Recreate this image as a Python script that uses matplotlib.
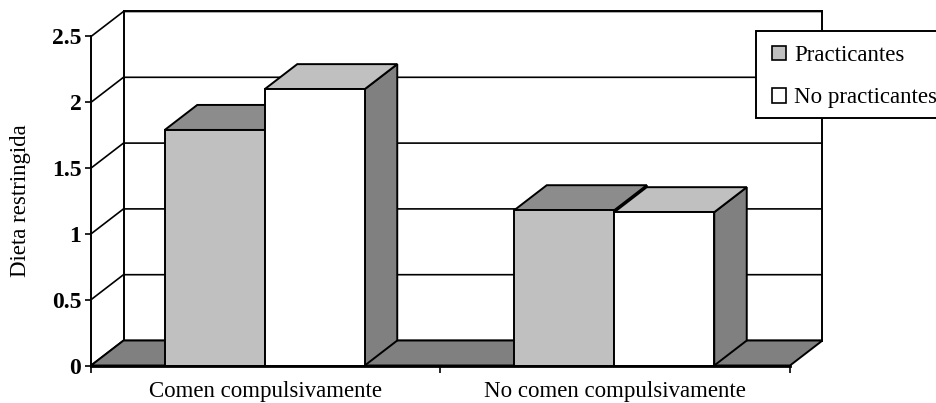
import matplotlib
matplotlib.use("Agg")
import matplotlib.pyplot as plt
from matplotlib.patches import Polygon, Patch, Rectangle
from matplotlib.legend_handler import HandlerPatch

categories = ["Comen compulsivamente", "No comen compulsivamente"]
series_names = ["Practicantes", "No practicantes"]
practicantes = [1.79, 1.18]
no_practicantes = [2.10, 1.165]
y_ticks = [0, 0.5, 1, 1.5, 2, 2.5]
y_tick_labels = ["0", "0.5", "1", "1.5", "2", "2.5"]
y_label = "Dieta restringida"

plt.rcParams["font.family"] = ["Liberation Serif", "DejaVu Serif"]
W, H = 937, 403
fig = plt.figure(figsize=(W / 100, H / 100), dpi=100)
ax = fig.add_axes([91 / W, (H - 365.5) / H, 699 / W, 329 / H])
ax.set_xlim(0, 2)
ax.set_ylim(0, 2.5)
ax.patch.set_alpha(0)

DX = 32.5 / 349.5
DY = 25 / 131.6
BW = 100 / 349.5
SHIFT = -1.0 / 349.5
LW = 1.4
FRONT = ["#c0c0c0", "#ffffff"]
TOP = ["#8c8c8c", "#c0c0c0"]
SIDE = "#808080"


def poly(pts, fc, z, lw=LW):
    ax.add_patch(Polygon(pts, closed=True, facecolor=fc, edgecolor="black",
                         linewidth=lw, zorder=z, clip_on=False, joinstyle="miter"))


# walls and grid
for v in y_ticks:
    ax.plot([0, DX, 2 + DX], [v, v + DY, v + DY], color="black", lw=1.2,
            zorder=1, clip_on=False, solid_capstyle="butt")
ax.plot([DX, DX], [DY, 2.5 + DY], color="black", lw=LW, zorder=1, clip_on=False)
ax.plot([2 + DX, 2 + DX], [DY, 2.5 + DY], color="black", lw=LW, zorder=1, clip_on=False)
ax.plot([DX, 2 + DX], [2.5 + DY, 2.5 + DY], color="black", lw=LW, zorder=1.1, clip_on=False)

# floor
poly([(0, 0), (2, 0), (2 + DX, DY), (DX, DY)], SIDE, 2)

# bars
z = 3
for c, vals in enumerate(zip(practicantes, no_practicantes)):
    for s, v in enumerate(vals):
        x0 = c + 0.5 + SHIFT + (s - 1) * BW
        x1 = x0 + BW
        poly([(x1, 0), (x1 + DX, DY), (x1 + DX, v + DY), (x1, v)], SIDE, z)
        poly([(x0, v), (x1, v), (x1 + DX, v + DY), (x0 + DX, v + DY)], TOP[s], z + 0.1)
        poly([(x0, 0), (x1, 0), (x1, v), (x0, v)], FRONT[s], z + 0.2)
        z += 1

# axes
for name in ("top", "right"):
    ax.spines[name].set_visible(False)
ax.spines["left"].set_linewidth(LW)
ax.spines["bottom"].set_linewidth(2.0)
ax.spines["left"].set_zorder(20)
ax.spines["bottom"].set_zorder(20)

ax.set_yticks(y_ticks)
ax.set_yticklabels(y_tick_labels, fontsize=17, fontweight="bold")
ax.set_xticks([0, 1, 2])
ax.set_xticklabels([])
ax.set_xticks([0.5, 1.5], minor=True)
ax.set_xticklabels(categories, minor=True, fontsize=16.5)
ax.tick_params(axis="x", which="minor", length=0, pad=11.5)
ax.tick_params(axis="x", which="major", length=5, width=1.2)
ax.tick_params(axis="y", length=4, width=1.2, pad=3)
ax.set_ylabel(y_label, fontsize=16.5)
ax.yaxis.set_label_coords(-60 / 699, 0.5)

# legend: box runs past the right edge of the figure
fig.add_artist(Rectangle((756 / W, (H - 118) / H), 200 / W, 87 / H,
                         transform=fig.transFigure, facecolor="white",
                         edgecolor="black", linewidth=1.4, zorder=29))
handles = [Patch(facecolor=FRONT[0], edgecolor="black", linewidth=1.2),
           Patch(facecolor=FRONT[1], edgecolor="black", linewidth=1.2)]
leg = fig.legend(handles, series_names, loc="upper left",
                 bbox_to_anchor=(756 / W, (H - 33.5) / H), bbox_transform=fig.transFigure,
                 fontsize=16.5, frameon=False, borderaxespad=0, borderpad=0.5,
                 labelspacing=0.94, handlelength=0.81, handleheight=0.61,
                 handletextpad=0.35,
                 handler_map={Patch: HandlerPatch(xpad=0.2)})
leg.set_zorder(30)

fig.savefig("out.png", dpi=100)
